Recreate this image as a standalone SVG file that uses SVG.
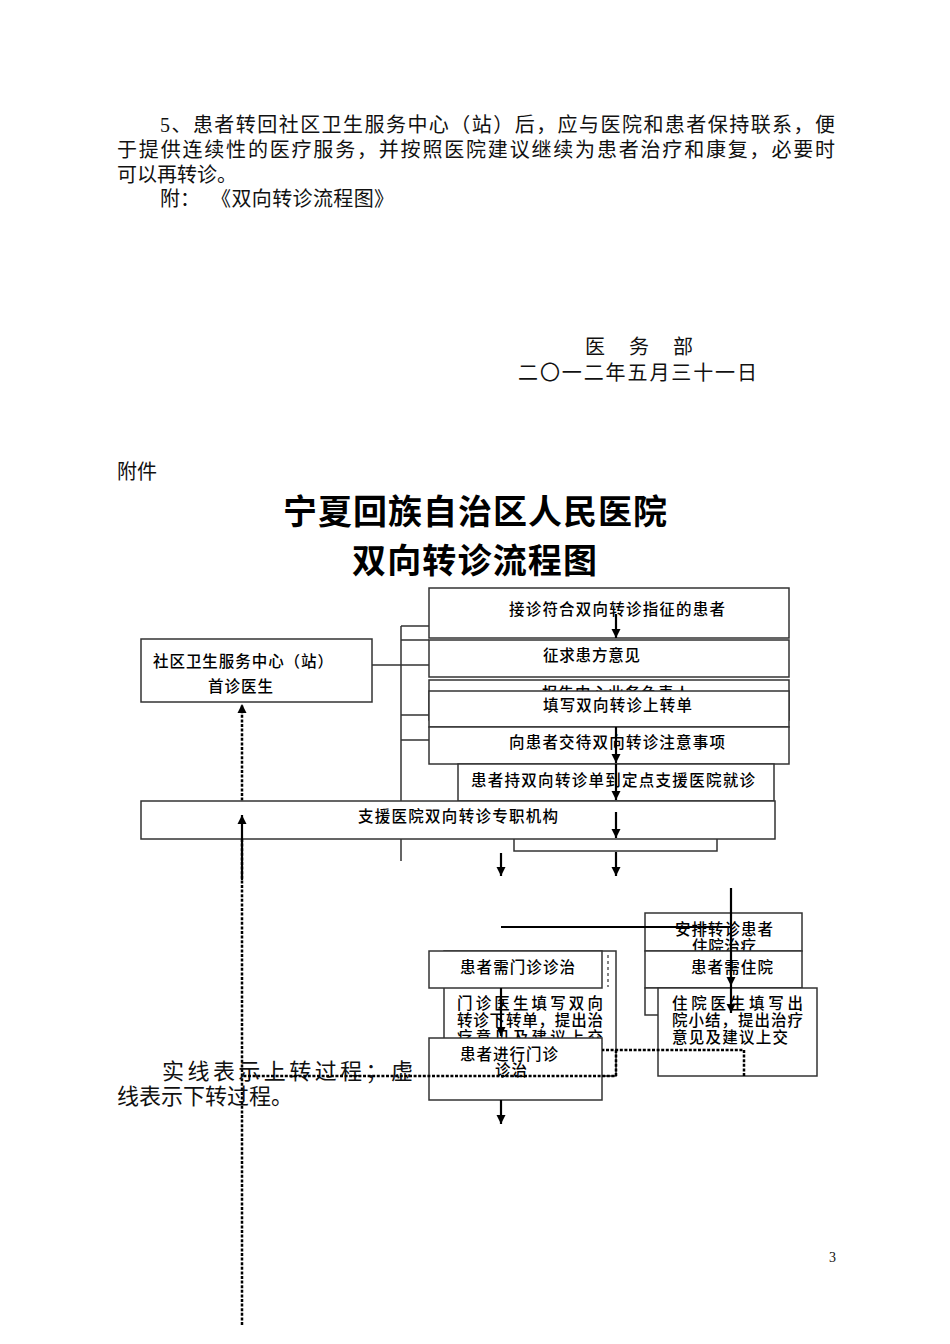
<svg xmlns="http://www.w3.org/2000/svg" width="950" height="1344" viewBox="0 0 950 1344">
<style>
.p{font-family:"Liberation Serif","Noto Sans CJK SC",serif;font-size:20px;fill:#111}
.big{font-family:"Liberation Serif","Noto Sans CJK SC",serif;font-size:22px;fill:#111}
.t{font-family:"Noto Sans CJK SC",sans-serif;font-size:34px;font-weight:bold;fill:#000}
.n{font-family:"Noto Sans CJK SC",sans-serif;font-size:15.5px;font-weight:500;fill:#000}
.box{fill:#fff;stroke:#333;stroke-width:1.5}
.ln{fill:none;stroke:#333;stroke-width:1.5}
.ar{fill:none;stroke:#000;stroke-width:2.2}
.ds{fill:none;stroke:#000;stroke-width:2.5;stroke-dasharray:3 1.6}
</style>
<defs>
<marker id="ah" viewBox="0 0 10 10" refX="10" refY="5" markerWidth="9" markerHeight="10" markerUnits="userSpaceOnUse" orient="auto"><path d="M0,0 L10,5 L0,10 z" fill="#000"/></marker>
</defs>
<rect width="950" height="1344" fill="#fff"/>

<g id="page-text">
<text class="p" x="160" y="132" textLength="675" lengthAdjust="spacing">5、患者转回社区卫生服务中心（站）后，应与医院和患者保持联系，便</text>
<text class="p" x="117" y="157" textLength="718" lengthAdjust="spacing">于提供连续性的医疗服务，并按照医院建议继续为患者治疗和康复，必要时</text>
<text class="p" x="117" y="182">可以再转诊。</text>
<text class="p" x="160" y="206">附：</text>
<text class="p" x="211" y="206" textLength="183" lengthAdjust="spacing">《双向转诊流程图》</text>
<text class="p" x="585" y="354" textLength="108" lengthAdjust="spacing">医　务　部</text>
<text class="p" x="518" y="380" textLength="239" lengthAdjust="spacing">二〇一二年五月三十一日</text>
<text class="p" x="117" y="479">附件</text>
<text class="t" x="283" y="524" textLength="384" lengthAdjust="spacing">宁夏回族自治区人民医院</text>
<text class="t" x="352" y="573" textLength="245" lengthAdjust="spacing">双向转诊流程图</text>
<text class="p" x="829" y="1262" style="font-size:14px">3</text>
</g>

<g id="connectors-back">
<path class="ln" d="M401,626 V861 M401,626 H429 M401,640 H429 M372,665 H429 M401,715 H429 M401,740 H429"/>
<path class="ds" d="M242,1325 V704" marker-end="url(#ah)"/>
</g>

<g id="node-a"><rect class="box" x="429" y="588" width="360" height="50"/><text class="n" x="509" y="615" textLength="216" lengthAdjust="spacing">接诊符合双向转诊指征的患者</text></g>
<g id="node-b"><rect class="box" x="429" y="640" width="360" height="37"/><text class="n" x="543" y="661" textLength="97" lengthAdjust="spacing">征求患方意见</text></g>
<g id="node-c"><rect class="box" x="429" y="680" width="360" height="40"/><text class="n" x="542" y="699" textLength="148" lengthAdjust="spacing">报告中心业务负责人</text></g>
<g id="node-d"><rect class="box" x="429" y="691" width="360" height="36"/><text class="n" x="543" y="711" textLength="149" lengthAdjust="spacing">填写双向转诊上转单</text></g>
<g id="node-e"><rect class="box" x="429" y="727" width="360" height="37"/><text class="n" x="509" y="748" textLength="216" lengthAdjust="spacing">向患者交待双向转诊注意事项</text></g>
<g id="node-f"><rect class="box" x="458" y="764" width="316" height="37"/><text class="n" x="471" y="786" textLength="284" lengthAdjust="spacing">患者持双向转诊单到定点支援医院就诊</text></g>
<g id="node-community"><rect class="box" x="141" y="639" width="231" height="63"/><text class="n" x="153" y="667" textLength="180" lengthAdjust="spacing">社区卫生服务中心（站）</text><text class="n" x="208" y="692" textLength="65" lengthAdjust="spacing">首诊医生</text></g>
<g id="node-bracket"><rect class="box" x="514" y="830" width="203" height="21"/></g>
<g id="node-g"><rect class="box" x="141" y="801" width="634" height="38"/><text class="n" x="358" y="822" textLength="200" lengthAdjust="spacing">支援医院双向转诊专职机构</text></g>

<g id="node-arrange"><rect class="box" x="645" y="913" width="157" height="38"/><text class="n" x="675" y="935" textLength="98" lengthAdjust="spacing">安排转诊患者</text><text class="n" x="692" y="952" textLength="64" lengthAdjust="spacing">住院治疗</text></g>
<g id="node-inpatient"><rect class="box" x="645" y="951" width="157" height="37"/><text class="n" x="691" y="973" textLength="82" lengthAdjust="spacing">患者需住院</text></g>
<g id="node-inpatient-back"><rect class="box" x="645" y="988" width="157" height="27"/></g>
<g id="node-discharge"><rect class="box" x="658" y="988" width="159" height="88"/><text class="n" x="672" y="1009" textLength="131" lengthAdjust="spacing">住院医生填写出</text><text class="n" x="672" y="1026" textLength="131" lengthAdjust="spacing">院小结，提出治疗</text><text class="n" x="672" y="1043" textLength="116" lengthAdjust="spacing">意见及建议上交</text></g>

<g id="node-outdoctor"><rect class="box" x="444" y="951" width="172" height="125"/><text class="n" x="457" y="1009" textLength="146" lengthAdjust="spacing">门诊医生填写双向</text><text class="n" x="457" y="1026" textLength="146" lengthAdjust="spacing">转诊下转单，提出治</text><text class="n" x="457" y="1043" textLength="146" lengthAdjust="spacing">疗意见及建议上交</text></g>
<g id="node-outpatient"><rect class="box" x="429" y="951" width="173" height="37"/><text class="n" x="460" y="973" textLength="115" lengthAdjust="spacing">患者需门诊诊治</text><path d="M608,955 V987" fill="none" stroke="#333" stroke-width="1.2" stroke-dasharray="3 3"/></g>
<g id="node-treat"><rect class="box" x="429" y="1038" width="173" height="62"/><text class="n" x="460" y="1060" textLength="98" lengthAdjust="spacing">患者进行门诊</text><text class="n" x="495" y="1076" textLength="32" lengthAdjust="spacing">诊治</text></g>

<g id="legend">
<text class="big" x="162" y="1079" textLength="251" lengthAdjust="spacing">实线表示上转过程；虚</text>
<text class="big" x="117" y="1104" textLength="176" lengthAdjust="spacing">线表示下转过程。</text>
</g>

<g id="connectors">
<path class="ar" d="M616,614 V638" marker-end="url(#ah)"/>
<path class="ar" d="M616,727 V763" marker-end="url(#ah)"/>
<path class="ar" d="M616,764 V800" marker-end="url(#ah)"/>
<path class="ar" d="M616,812 V838" marker-end="url(#ah)"/>
<path class="ar" d="M616,852 V876" marker-end="url(#ah)"/>
<path class="ar" d="M501,853 V876" marker-end="url(#ah)"/>
<path class="ar" d="M242,880 V815" marker-end="url(#ah)"/>
<path class="ar" d="M501,927 H731"/>
<path class="ar" d="M731,888 V986" marker-end="url(#ah)"/>
<path class="ar" d="M731,986 V1013" marker-end="url(#ah)"/>
<path class="ar" d="M501,988 V1036" marker-end="url(#ah)"/>
<path class="ar" d="M501,1100 V1124" marker-end="url(#ah)"/>
<path class="ds" d="M744,1076 V1050 H602 M616,1050 V1076 H242"/>
</g>
</svg>
